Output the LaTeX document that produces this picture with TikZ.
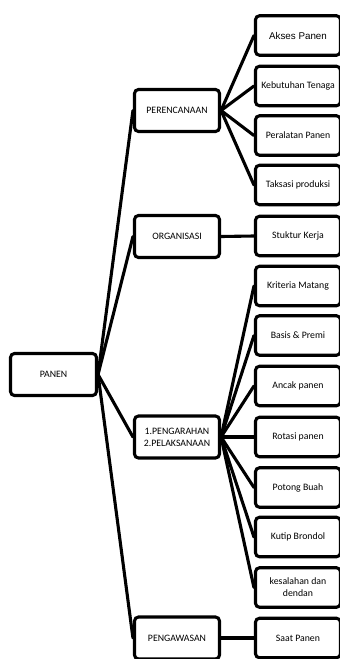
\documentclass[tikz,border=0pt]{standalone}
\usepackage{fontspec}
\setmainfont{Carlito}
\newfontfamily\arialfont{Liberation Sans}
\begin{document}
\begin{tikzpicture}[x=1pt,y=-1pt,
  box/.style={draw=black, line width=3.1pt, rounded corners=4pt, fill=white,
    inner sep=1pt, align=center, font=\fontsize{9.8}{12}\selectfont},
  leaf/.style={box, minimum width=85pt, minimum height=39.5pt},
  mid/.style={box, minimum width=85pt, minimum height=42pt},
  conn/.style={line width=3.1pt, line cap=round}]
\useasboundingbox (0,0) rectangle (340,659);
\clip (0,0) rectangle (340,659);
% root
\node[box, minimum width=86pt, minimum height=42pt] (panen) at (53.5,374.5) {PANEN};
% middle level
\node[mid] (per) at (177,110.5) {PERENCANAAN};
\node[mid] (org) at (177,236.5) {ORGANISASI};
\node[mid] (pel) at (177,437) {1.PENGARAHAN\\2.PELAKSANAAN};
\node[mid] (pgw) at (177,638) {PENGAWASAN};
% leaves
\node[leaf] (akses) at (298,35.5) {\arialfont Akses Panen};
\node[leaf] (kebut) at (298,86) {Kebutuhan Tenaga};
\node[leaf] (peral) at (298,135.5) {Peralatan Panen};
\node[leaf] (taks) at (298,185) {Taksasi produksi};
\node[leaf] (stuk) at (298,236) {Stuktur Kerja};
\node[leaf] (krit) at (298,286) {Kriteria Matang};
\node[leaf] (basis) at (298,335.5) {Basis \& Premi};
\node[leaf] (ancak) at (298,386) {Ancak panen};
\node[leaf] (rotasi) at (298,437) {Rotasi panen};
\node[leaf] (potong) at (298,487.5) {Potong Buah};
\node[leaf] (kutip) at (298,537) {Kutip Brondol};
\node[leaf] (kesal) at (298,587.5) {kesalahan dan\\dendan};
\node[leaf] (saat) at (298,638) {Saat Panen};
% connectors
\foreach \c in {per,org,pel,pgw} \draw[conn] (panen.east) -- (\c.west);
\foreach \c in {akses,kebut,peral,taks} \draw[conn] (per.east) -- (\c.west);
\draw[conn] (org.east) -- (stuk.west);
\foreach \c in {krit,basis,ancak,rotasi,potong,kutip,kesal} \draw[conn] (pel.east) -- (\c.west);
\draw[conn] (pgw.east) -- (saat.west);
\end{tikzpicture}
\end{document}
